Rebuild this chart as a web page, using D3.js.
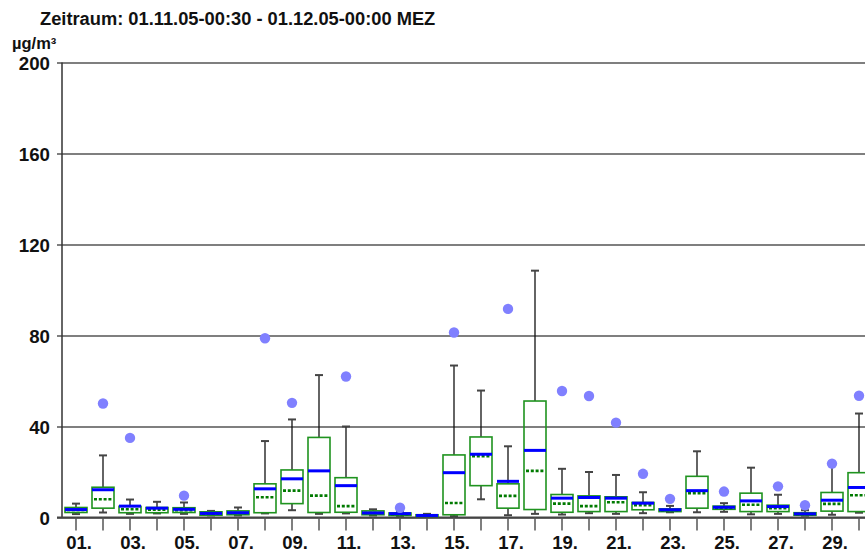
<!DOCTYPE html>
<html>
<head>
<meta charset="utf-8">
<script src="https://cdn.jsdelivr.net/npm/d3@7"></script>
<style>
  html, body { margin: 0; padding: 0; background: #fff; }
  svg { display: block; font-family: "Liberation Sans", Arial, sans-serif; }
</style>
</head>
<body>
<svg id="chart" width="865" height="551"></svg>
<script>
// ---- data ----
const days = ["01.","02.","03.","04.","05.","06.","07.","08.","09.","10.",
              "11.","12.","13.","14.","15.","16.","17.","18.","19.","20.",
              "21.","22.","23.","24.","25.","26.","27.","28.","29.","30."];
const xTickLabels = ["01.","03.","05.","07.","09.","11.","13.","15.","17.","19.",
                     "21.","23.","25.","27.","29."];
const yTicks = [0, 40, 80, 120, 160, 200];

const whiskerLow  = [1.5,2.2,1.6,1.8,1.6,0.9,0.9,1.8,3.2,1.6, 1.8,0.9,0.7,0.4,0.6,8.0,1.0,1.6,1.3,1.9, 1.6,1.9,2.3,2.3,2.5,1.4,1.6,0.8,1.2,2.1];
const q1          = [2.2,4.1,2.1,2.1,2.2,1.0,1.2,2.1,6.1,2.2, 2.3,1.2,0.9,0.5,1.2,14.0,4.1,3.5,2.3,2.6, 2.6,3.4,2.6,4.1,3.6,2.6,2.6,1.0,2.8,2.6];
const median      = [3.3,8.0,3.6,3.4,3.2,1.7,2.0,8.9,11.8,9.6, 5.0,2.0,1.4,0.8,6.4,26.9,9.5,20.5,6.1,5.0, 6.7,5.4,3.2,10.7,4.2,5.6,4.1,1.5,6.0,9.8];
const mean        = [3.5,12.2,5.0,4.1,3.6,1.8,2.1,12.6,17.0,20.5, 14.0,2.0,1.7,0.9,19.7,27.8,15.9,29.5,8.5,8.8, 8.5,6.3,3.4,11.8,4.5,7.3,4.8,1.6,7.6,13.2];
const q3          = [4.4,13.3,4.9,4.4,4.3,2.5,2.9,14.8,20.9,35.2, 17.5,2.9,2.0,1.2,27.5,35.4,14.8,51.2,10.1,9.5, 9.1,6.6,3.8,18.1,5.0,10.7,5.4,2.1,11.0,19.7];
const whiskerHigh = [6.1,27.3,7.9,6.9,6.6,2.9,4.4,33.6,43.1,62.6, 40.0,3.6,2.5,1.6,66.8,55.8,31.3,108.5,21.4,20.0, 18.7,11.1,5.1,29.1,6.3,21.9,10.0,3.2,22.9,45.7];
const maxValue    = [null,50.1,35.0,null,9.6,null,null,78.8,50.4,null, 62.0,null,4.3,null,81.3,null,91.7,null,55.6,53.4, 41.7,19.2,8.2,null,11.4,null,13.7,5.4,23.7,53.5];

const titleText = "Zeitraum: 01.11.05-00:30 - 01.12.05-00:00 MEZ";
const unitText = "µg/m³";

// ---- layout ----
const W = 865, H = 551;
const plotLeft = 62, plotTop = 62.5, plotBottom = 517.5;
const step = 27;
const svg = d3.select("#chart");

const x = d3.scaleBand().domain(days).range([plotLeft + 0.5, plotLeft + 0.5 + step * days.length]).paddingInner(0).paddingOuter(0);
const y = d3.scaleLinear().domain([0, 200]).range([plotBottom, plotTop]);
const cx = d => x(d) + x.bandwidth() / 2;
const boxW = 22;

const rows = days.map((d, i) => ({
  day: d, lo: whiskerLow[i], q1: q1[i], med: median[i], mean: mean[i],
  q3: q3[i], hi: whiskerHigh[i], max: maxValue[i]
}));

// title & unit
svg.append("text").attr("x", 40).attr("y", 25)
  .attr("font-size", 18.3).attr("font-weight", "bold").attr("fill", "#111")
  .text(titleText);
svg.append("text").attr("x", 12).attr("y", 49)
  .attr("font-size", 16.5).attr("font-weight", "bold").attr("fill", "#111")
  .text(unitText);

// y gridlines via axis
const yAxis = d3.axisLeft(y).tickValues(yTicks).tickSize(-(W - 57)).tickFormat("");
const gy = svg.append("g").attr("transform", `translate(57,0)`).call(yAxis);
gy.select(".domain").remove();
gy.selectAll(".tick line").attr("stroke", "#7f7f7f").attr("stroke-width", 2);
// y labels
svg.append("g").selectAll("text").data(yTicks).join("text")
  .attr("x", 50).attr("y", d => y(d) + 7.5)
  .attr("text-anchor", "end").attr("font-size", 18.7).attr("font-weight", "bold").attr("fill", "#111")
  .text(d => d);

// y axis line
svg.append("line").attr("x1", plotLeft).attr("x2", plotLeft).attr("y1", y(200)).attr("y2", y(0))
  .attr("stroke", "#333").attr("stroke-width", 1.5);

// x axis line
svg.append("line").attr("x1", 57).attr("x2", W).attr("y1", y(0)).attr("y2", y(0))
  .attr("stroke", "#444").attr("stroke-width", 2);

// x ticks
const xAxis = d3.axisBottom(x).tickSize(13).tickFormat(d => xTickLabels.includes(d) ? d : "");
const gx = svg.append("g").attr("transform", `translate(0,${y(0)})`).call(xAxis);
gx.select(".domain").remove();
gx.selectAll(".tick line").attr("stroke", "#555").attr("stroke-width", 1.5);
gx.selectAll(".tick text").attr("font-size", 18.5).attr("font-weight", "bold").attr("fill", "#111")
  .attr("font-family", "'Liberation Sans', Arial, sans-serif")
  .attr("dy", 0).attr("y", 31).attr("dx", 3);

// boxes
const g = svg.append("g");
const box = g.selectAll("g.box").data(rows).join("g").attr("class", "box");

// whiskers
box.append("line").attr("x1", d => cx(d.day)).attr("x2", d => cx(d.day))
  .attr("y1", d => y(d.q3)).attr("y2", d => y(d.hi)).attr("stroke", "#111").attr("stroke-width", 1.3);
box.append("line").attr("x1", d => cx(d.day)).attr("x2", d => cx(d.day))
  .attr("y1", d => y(d.q1)).attr("y2", d => y(d.lo)).attr("stroke", "#111").attr("stroke-width", 1.3);
box.append("line").attr("x1", d => cx(d.day) - 4).attr("x2", d => cx(d.day) + 4)
  .attr("y1", d => y(d.hi)).attr("y2", d => y(d.hi)).attr("stroke", "#444").attr("stroke-width", 2);
box.append("line").attr("x1", d => cx(d.day) - 4).attr("x2", d => cx(d.day) + 4)
  .attr("y1", d => y(d.lo)).attr("y2", d => y(d.lo)).attr("stroke", "#444").attr("stroke-width", 2);

// box rect
box.append("rect").attr("x", d => cx(d.day) - boxW / 2).attr("width", boxW)
  .attr("y", d => y(d.q3)).attr("height", d => Math.max(0.5, y(d.q1) - y(d.q3)))
  .attr("fill", "none").attr("stroke", "#1f931f").attr("stroke-width", 1.6);

// median (dotted green)
box.append("line").attr("x1", d => cx(d.day) - boxW / 2 + 2).attr("x2", d => cx(d.day) + boxW / 2 - 1)
  .attr("y1", d => y(d.med)).attr("y2", d => y(d.med))
  .attr("stroke", "#007a00").attr("stroke-width", 2.6).attr("stroke-dasharray", "3,1.8");

// mean (blue)
box.append("line").attr("x1", d => cx(d.day) - boxW / 2).attr("x2", d => cx(d.day) + boxW / 2)
  .attr("y1", d => y(d.mean)).attr("y2", d => y(d.mean))
  .attr("stroke", "#0000ff").attr("stroke-width", 3);

// max dots
g.selectAll("circle").data(rows.filter(d => d.max !== null)).join("circle")
  .attr("cx", d => cx(d.day)).attr("cy", d => y(d.max)).attr("r", 5.2)
  .attr("fill", "#8080ff");
</script>
</body>
</html>
